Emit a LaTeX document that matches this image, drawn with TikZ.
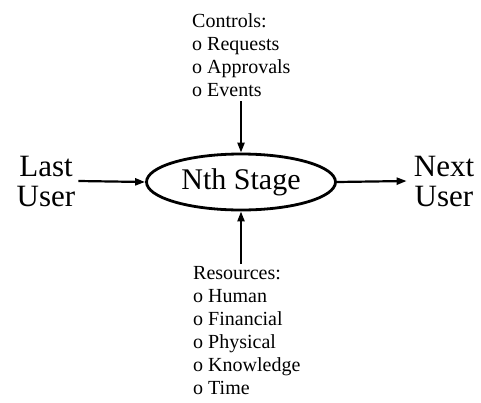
\documentclass[tikz,border=0pt]{standalone}
\usepackage{fontspec}
\setmainfont{Liberation Serif}
\usetikzlibrary{shapes,arrows.meta,positioning,calc}

\begin{document}
\begin{tikzpicture}[x=1pt,y=-1pt]
% Styles
   \tikzstyle{stagebox} = [draw, shape=ellipse, line width=2.8pt, minimum width=189pt, minimum height=56pt, inner sep=0pt, font=\fontsize{30}{30}\selectfont]
   \tikzstyle{userlabel} = [align=center, inner sep=3pt, font=\fontsize{31}{30}\selectfont]
   \tikzstyle{listlabel} = [align=left, inner sep=0pt, font=\fontsize{20}{23}\selectfont]
   \tikzstyle{flow} = [line width=2.2pt, -{Triangle[length=10pt,width=7pt]}]

\useasboundingbox (0,0) rectangle (481,402);

\node[stagebox] (stage) at (241,182) {Nth Stage};
\node[userlabel] (last) at (46,181) {Last\\User};
\node[userlabel] (next) at (444,181) {Next\\User};

\node[listlabel, anchor=north west] (controls) at (192,13) {Controls:\\o Requests\\o Approvals\\o Events};
\node[listlabel, anchor=north west] (resources) at (193,266) {Resources:\\o Human\\o Financial\\o Physical\\o Knowledge\\o Time};

\draw[flow] ([yshift=-5pt]stage.north |- controls.south) -- (stage.north);
\draw[flow] ([yshift=2pt]stage.south |- resources.north) -- (stage.south);
\draw[flow] (last.east) -- (stage.west);
\draw[flow] (stage.east) -- ([xshift=-4pt]next.west);
\end{tikzpicture}
\end{document}
